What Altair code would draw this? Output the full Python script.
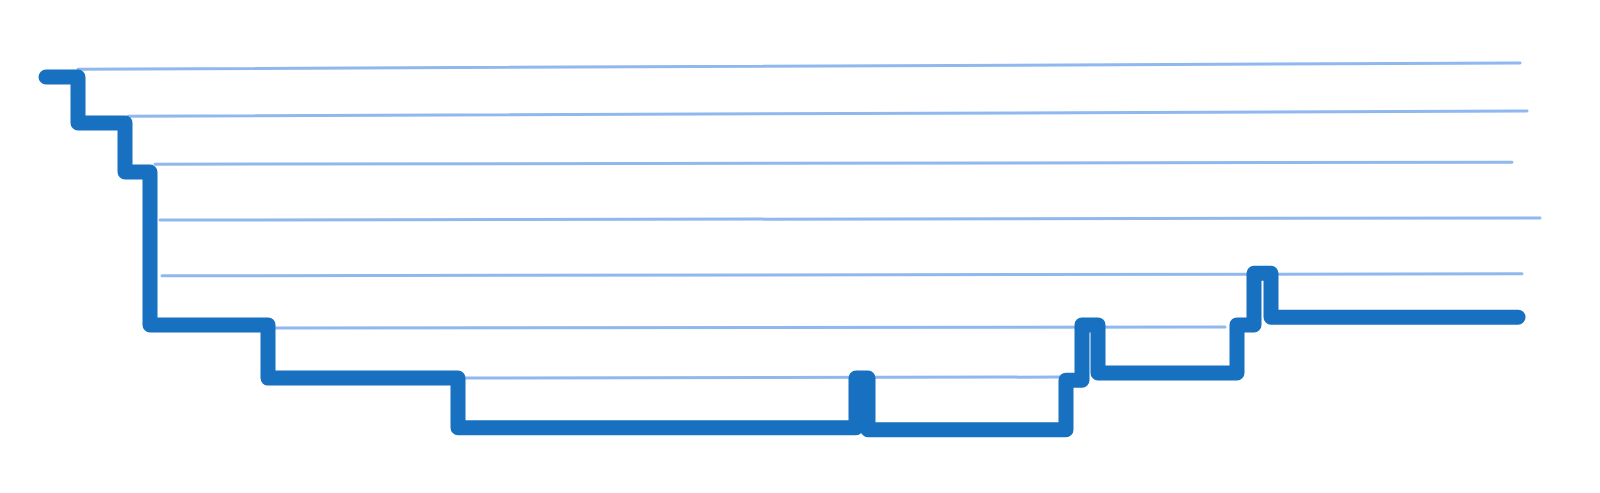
import altair as alt
import pandas as pd

# Step line (hand-drawn level curve): x position and level
step_x = [4.6, 7.8, 12.5, 15.0, 26.8, 45.8, 85.6, 86.8, 106.6, 108.2, 109.8, 123.7, 125.4, 127.1, 151.8]
step_level = [6.81, 5.92, 4.97, 2.01, 0.98, 0.02, 0.98, -0.02, 0.94, 2.01, 1.08, 2.01, 3.01, 2.16, 2.16]

# Guide lines: start/end x and start/end level (slightly tilted, hand-drawn)
grid_x_start = [7.8, 12.8, 15.5, 16.0, 16.2, 27.5, 46.2]
grid_x_end = [152.0, 152.7, 151.2, 154.0, 152.2, 122.5, 106.2]
grid_level_start = [6.96, 6.05, 5.12, 4.04, 2.96, 1.95, 0.98]
grid_level_end = [7.08, 6.15, 5.16, 4.08, 3.00, 1.97, 1.00]

step_df = pd.DataFrame({"x": step_x, "level": step_level, "order": list(range(len(step_x)))})
grid_df = pd.DataFrame({
    "x": grid_x_start, "x2": grid_x_end,
    "y": grid_level_start, "y2": grid_level_end,
})

xscale = alt.Scale(domain=[0.8, 159.2], nice=False, zero=False)
yscale = alt.Scale(domain=[-1.09, 8.145], nice=False, zero=False)

grid = alt.Chart(grid_df).mark_rule(color="#8fb8ee", strokeWidth=3, strokeCap="round").encode(
    x=alt.X("x:Q", scale=xscale, axis=None),
    x2="x2:Q",
    y=alt.Y("y:Q", scale=yscale, axis=None),
    y2="y2:Q",
)

line = alt.Chart(step_df).mark_line(
    color="#1870c0", strokeWidth=15, strokeCap="round", strokeJoin="round",
    interpolate="step-after",
).encode(
    x=alt.X("x:Q", scale=xscale, axis=None),
    y=alt.Y("level:Q", scale=yscale, axis=None),
    order="order:Q",
)

chart = alt.layer(grid, line).properties(
    width=1584, height=477, padding=0,
    autosize=alt.AutoSizeParams(type="none"),
    background="white",
).configure_view(stroke=None)

chart.save("out.html", embed_options={"renderer": "svg", "actions": False})
